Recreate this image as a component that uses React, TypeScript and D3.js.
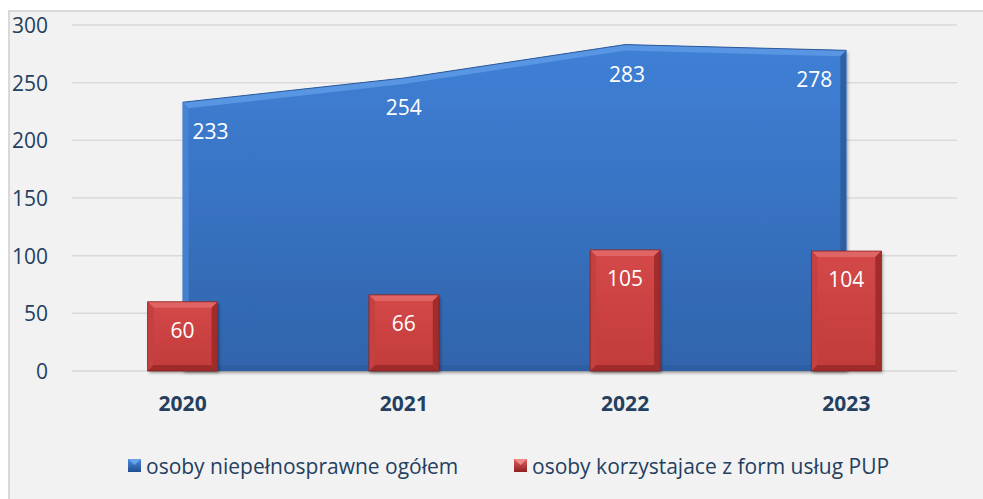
import React from "react";
import * as d3 from "d3";

const years = ["2020", "2021", "2022", "2023"];
const totalDisabled = [233, 254, 283, 278];
const usingServices = [60, 66, 105, 104];
const yTicks = [0, 50, 100, 150, 200, 250, 300];
const seriesNames = ["osoby niepełnosprawne ogółem", "osoby korzystajace z form usług PUP"];

const W = 983;
const H = 499;
const FONT = "'Open Sans', 'Noto Sans', sans-serif";
const TEXT = "#243f60";

export default function App() {
  const x = d3.scaleBand<string>().domain(years).range([72, 957]).paddingInner(0).paddingOuter(0);
  const y = d3.scaleLinear().domain([0, 300]).range([371, 25]);
  const cx = (d: string) => (x(d) as number) + x.bandwidth() / 2;
  const barW = x.bandwidth() * 0.316;
  const y0 = y(0);
  const b = 6;

  const pts: [number, number][] = years.map((yr, i) => [cx(yr), y(totalDisabled[i])]);
  const areaGen = d3.area<[number, number]>().x((d) => d[0]).y0(y0).y1((d) => d[1]);
  const lineGen = d3.line<[number, number]>().x((d) => d[0]).y((d) => d[1]);
  const first = pts[0];
  const last = pts[pts.length - 1];

  const inner: [number, number][] = pts.map((p, i) => [
    i === 0 ? p[0] + b : i === pts.length - 1 ? p[0] - b : p[0],
    p[1] + b,
  ]);
  const topBevel = lineGen(pts) + "L" + inner.slice().reverse().map((p) => p.join(",")).join("L") + "Z";
  const leftBevel = `M${first[0]},${first[1]}L${first[0] + b},${first[1] + b}L${first[0] + b},${y0 - b}L${first[0]},${y0}Z`;
  const rightBevel = `M${last[0]},${last[1]}L${last[0] - b},${last[1] + b}L${last[0] - b},${y0 - b}L${last[0]},${y0}Z`;
  const bottomBevel = `M${first[0]},${y0}L${first[0] + b},${y0 - b}L${last[0] - b},${y0 - b}L${last[0]},${y0}Z`;

  const areaLabelDx = [28, 0, 2, -32];

  return (
    <svg
      width={W}
      height={H}
      style={{ position: "absolute", left: 0, top: 0, display: "block" }}
      fontFamily={FONT}
    >
      <defs>
        <linearGradient id="blueFill" x1="0" y1="0" x2="0" y2="1">
          <stop offset="0" stopColor="#3f80d6" />
          <stop offset="1" stopColor="#3064ac" />
        </linearGradient>
        <linearGradient id="redFill" x1="0" y1="0" x2="0" y2="1">
          <stop offset="0" stopColor="#d44848" />
          <stop offset="1" stopColor="#c23b3b" />
        </linearGradient>
        <linearGradient id="blueLeg" x1="0" y1="0" x2="0" y2="1">
          <stop offset="0" stopColor="#4a8ae0" />
          <stop offset="1" stopColor="#1f4f8f" />
        </linearGradient>
        <linearGradient id="redLeg" x1="0" y1="0" x2="0" y2="1">
          <stop offset="0" stopColor="#e06060" />
          <stop offset="1" stopColor="#8f2020" />
        </linearGradient>
        <filter id="shadow" x="-10%" y="-10%" width="130%" height="130%">
          <feDropShadow dx="1.5" dy="2" stdDeviation="1.5" floodColor="#000" floodOpacity="0.35" />
        </filter>
      </defs>

      <rect x={0} y={0} width={W} height={H} fill="#ffffff" />
      <rect x={9} y={11} width={1000} height={600} fill="#f2f2f2" stroke="#d9d9d9" strokeWidth={2} />

      {yTicks.map((t) => (
        <line key={t} x1={72} x2={957} y1={y(t)} y2={y(t)} stroke="#d9d9d9" strokeWidth={1.5} />
      ))}

      {yTicks.map((t) => (
        <text
          key={"l" + t}
          x={48}
          y={y(t)}
          textAnchor="end"
          dominantBaseline="central"
          fontSize={21}
          fill={TEXT}
        >
          {t}
        </text>
      ))}

      <g filter="url(#shadow)">
        <path d={areaGen(pts) as string} fill="url(#blueFill)" />
      </g>
      <path d={topBevel} fill="#5d9ae6" opacity={0.85} />
      <path d={leftBevel} fill="#4a86d6" opacity={0.8} />
      <path d={rightBevel} fill="#2a5a9c" opacity={0.85} />
      <path d={bottomBevel} fill="#2a5a9c" opacity={0.6} />
      <path d={lineGen(pts) as string} fill="none" stroke="#2c5a9a" strokeWidth={1} />

      {years.map((yr, i) => (
        <text
          key={"al" + yr}
          x={cx(yr) + areaLabelDx[i]}
          y={y(totalDisabled[i]) + 29}
          textAnchor="middle"
          dominantBaseline="central"
          fontSize={21}
          fill="#ffffff"
        >
          {totalDisabled[i]}
        </text>
      ))}

      {years.map((yr, i) => {
        const bx = cx(yr) - barW / 2;
        const by = y(usingServices[i]);
        const bh = y0 - by;
        const w = barW;
        return (
          <g key={"b" + yr}>
            <rect x={bx} y={by} width={w} height={bh} fill="url(#redFill)" filter="url(#shadow)" />
            <path
              d={`M${bx},${by}L${bx + w},${by}L${bx + w - b},${by + b}L${bx + b},${by + b}Z`}
              fill="#e26a6a"
              opacity={0.85}
            />
            <path
              d={`M${bx},${by}L${bx + b},${by + b}L${bx + b},${by + bh - b}L${bx},${by + bh}Z`}
              fill="#c54040"
            />
            <path
              d={`M${bx + w},${by}L${bx + w - b},${by + b}L${bx + w - b},${by + bh - b}L${bx + w},${by + bh}Z`}
              fill="#a22c2c"
            />
            <path
              d={`M${bx},${by + bh}L${bx + b},${by + bh - b}L${bx + w - b},${by + bh - b}L${bx + w},${by + bh}Z`}
              fill="#9e2a2a"
            />
            <rect x={bx} y={by} width={w} height={bh} fill="none" stroke="#8a2222" strokeWidth={0.8} />
            <text
              x={cx(yr)}
              y={by + 28}
              textAnchor="middle"
              dominantBaseline="central"
              fontSize={21}
              fill="#ffffff"
            >
              {usingServices[i]}
            </text>
          </g>
        );
      })}

      {years.map((yr) => (
        <text
          key={"x" + yr}
          x={cx(yr)}
          y={403}
          textAnchor="middle"
          dominantBaseline="central"
          fontSize={21}
          fontWeight="bold"
          fill={TEXT}
        >
          {yr}
        </text>
      ))}

      <rect x={128} y={459} width={13} height={13} fill="url(#blueLeg)" />
      <path d="M128,459L141,459L134.5,465Z" fill="#6aa2ea" />
      <text x={146} y={466} dominantBaseline="central" fontSize={21} fill={TEXT}>
        {seriesNames[0]}
      </text>
      <rect x={514} y={459} width={13} height={13} fill="url(#redLeg)" />
      <path d="M514,459L527,459L520.5,465Z" fill="#f08a8a" />
      <text x={532} y={466} dominantBaseline="central" fontSize={21} fill={TEXT}>
        {seriesNames[1]}
      </text>
    </svg>
  );
}
